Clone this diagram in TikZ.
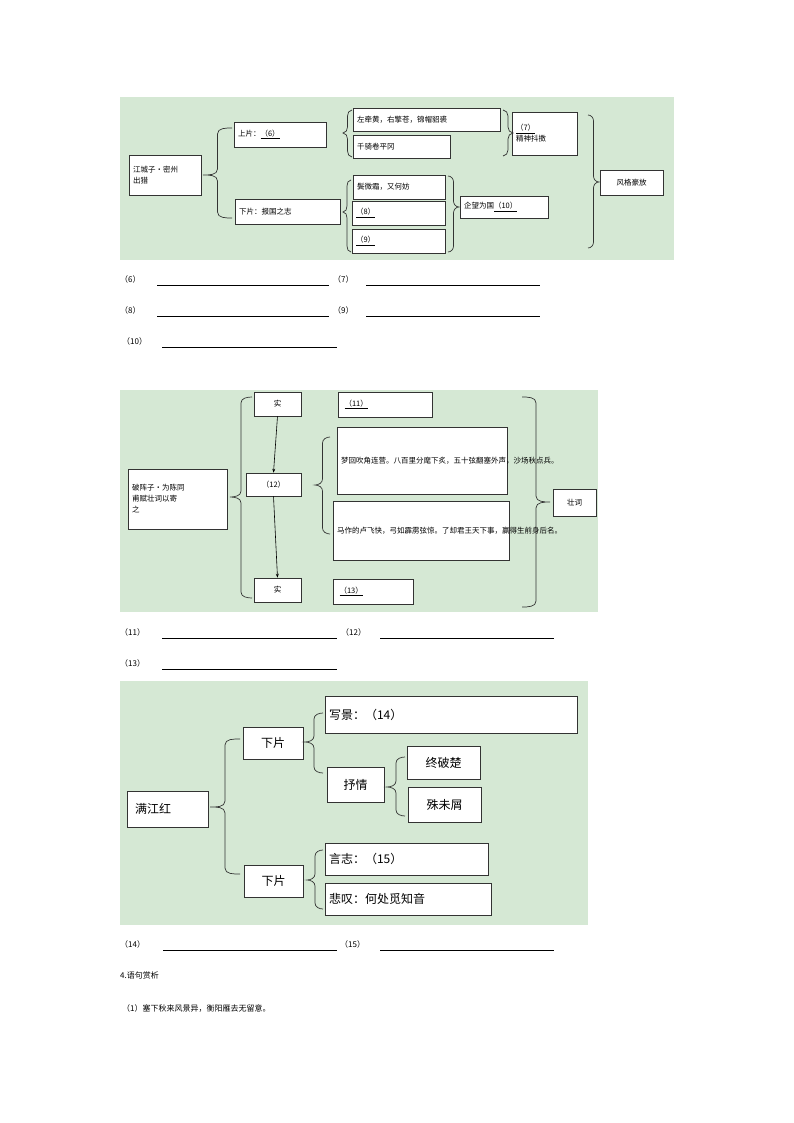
\documentclass[tikz,border=0pt]{standalone}
\usepackage{fontspec}
\setmainfont{Noto Sans CJK SC}
\usetikzlibrary{arrows.meta}
\definecolor{pg}{RGB}{213,232,212}
\newcommand\bx[7][center]{%
  \pgfmathsetmacro\bw{#5-#3}\pgfmathsetmacro\bh{#6-#4}\pgfmathsetmacro\tw{#5-#3-8}%
  \node[box,minimum width=\bw pt,minimum height=\bh pt,text width=\tw pt,align=#1] (#2) at ({(#3+#5)/2},{(#4+#6)/2}) {#7};}
% left brace: tipx, x of ends, top, mid, bottom
\newcommand\LB[5]{\pgfmathsetmacro\m{(#1+#2)/2}\pgfmathsetmacro\r{min(6,(#4-#3)/3)}%
  \draw[brc] (#2,#3) to[out=180,in=90] (\m,#3+\r) -- (\m,#4-\r) to[out=-90,in=0] (#1,#4)
   to[out=0,in=90] (\m,#4+\r) -- (\m,#5-\r) to[out=-90,in=180] (#2,#5);}
\newcommand\RB[5]{\pgfmathsetmacro\m{(#1+#2)/2}\pgfmathsetmacro\r{min(6,(#4-#3)/3)}%
  \draw[brc] (#2,#3) to[out=0,in=90] (\m,#3+\r) -- (\m,#4-\r) to[out=-90,in=180] (#1,#4)
   to[out=180,in=90] (\m,#4+\r) -- (\m,#5-\r) to[out=-90,in=0] (#2,#5);}
\begin{document}
\begin{tikzpicture}[x=1pt,y=-1pt,
  box/.style={draw=black!80,fill=white,line width=0.6pt,inner xsep=4pt,inner ysep=1pt,font=\fontsize{7.5}{11}\selectfont},
  brc/.style={line width=0.7pt,black!80},
  ans/.style={anchor=west,font=\fontsize{8}{10}\selectfont,inner sep=0pt},
  ln/.style={line width=0.6pt}]
\useasboundingbox (0,0) rectangle (794,1123);
% ===== panel 1
\fill[pg] (120,97) rectangle (674,260);
\bx[left]{a0}{129}{155}{201}{195}{江城子·密州\\出猎}
\bx[left]{a1}{234}{122}{326}{147}{上片：\underline{（6）}}
\bx[left]{a2}{235}{199}{340}{224}{下片：报国之志}
\bx[left]{a3}{353}{108}{500}{131}{左牵黄，右擎苍，锦帽貂裘}
\bx[left]{a4}{353}{135}{450}{158}{千骑卷平冈}
\bx[left]{a5}{512}{112}{577}{155}{\underline{（7）}\\精神抖擞}
\bx[left]{a6}{353}{175}{445}{199}{鬓微霜，又何妨}
\bx[left]{a7}{352}{201}{445}{225}{\underline{（8）}}
\bx[left]{a8}{352}{229}{445}{253}{\underline{（9）}}
\bx[left]{a9}{460}{196}{548}{218}{企望为国\underline{（10）}}
\bx{a10}{600}{170}{663}{195}{风格豪放}
\LB{203}{232}{128}{175}{218}
\LB{343}{352}{110}{133}{157}
\RB{513}{503}{110}{133}{156}
\LB{343}{351}{180}{212}{252}
\RB{459}{448}{176}{207}{252}
\RB{599}{588}{115}{182}{248}
% answers 1
\node[ans] (q6) at (120,279) {（6）}; \draw[ln] (157,285) -- (329,285);
\node[ans] (q7) at (333,279) {（7）}; \draw[ln] (366,285) -- (540,285);
\node[ans] (q8) at (120,310) {（8）}; \draw[ln] (157,316) -- (329,316);
\node[ans] (q9) at (333,310) {（9）}; \draw[ln] (366,316) -- (540,316);
\node[ans] (q10) at (122,341) {（10）}; \draw[ln] (162,347) -- (337,347);
% ===== panel 2
\fill[pg] (120,390) rectangle (598,612);
\bx[left]{b0}{128}{469}{227}{529}{破阵子·为陈同\\甫赋壮词以寄\\之}
\bx{b1}{254}{392}{301}{416}{实}
\bx[left]{b2}{338}{392}{432}{417}{\ \underline{（11）}}
\bx{b3}{246}{473}{301}{496}{（12）}
\bx{b4}{254}{578}{301}{602}{实}
\bx[left]{b5}{333}{579}{413}{604}{\ \underline{（13）}}
\bx[left]{b6}{337}{427}{507}{494}{梦回吹角连营。八百里分麾下炙，五十弦翻塞外声，沙场秋点兵。}
\bx[left]{b7}{333}{501}{509}{560}{马作的卢飞快，弓如霹雳弦惊。了却君王天下事，赢得生前身后名。}
\bx{b8}{553}{489}{596}{516}{壮词}
\draw[line width=0.6pt,-{Stealth[length=4pt,width=3pt]}] (b1.south) -- (b3.north);
\draw[line width=0.6pt,-{Stealth[length=4pt,width=3pt]}] (b3.south) -- (b4.north);
\LB{230}{252}{397}{497}{598}
\LB{315}{330}{437}{485}{534}
\RB{550}{522}{397}{502}{607}
\node[ans] (q11) at (120,632) {（11）}; \draw[ln] (162,638) -- (337,638);
\node[ans] (q12) at (341,632) {（12）}; \draw[ln] (380,638) -- (554,638);
\node[ans] (q13) at (120,663) {（13）}; \draw[ln] (162,669) -- (337,669);
% ===== panel 3
\fill[pg] (120,681) rectangle (588,925);
\begin{scope}[box/.append style={font=\fontsize{12}{14}\selectfont}]
\bx[left]{c0}{127}{791}{208}{827}{\ 满江红}
\bx{c1}{243}{727}{303}{759}{下片}
\bx{c2}{244}{865}{303}{897}{下片}
\bx[left]{c3}{325}{696}{577}{733}{写景：（14）}
\bx{c4}{327}{767}{384}{802}{抒情}
\bx{c5}{407}{746}{480}{779}{终破楚}
\bx{c6}{408}{787}{481}{822}{殊未屑}
\bx[left]{c7}{325}{843}{488}{875}{言志：（15）}
\bx[left]{c8}{325}{883}{491}{915}{悲叹：何处觅知音}
\end{scope}
\LB{210}{240}{739}{807}{874}
\LB{305}{323}{713}{742}{773}
\LB{387}{405}{757}{787}{816}
\LB{307}{323}{850}{880}{909}
\node[ans] (q14) at (120,944) {（14）}; \draw[ln] (163,950) -- (337,950);
\node[ans] (q15) at (340,944) {（15）}; \draw[ln] (380,950) -- (554,950);
\node[ans] (h4) at (120,975) {4.语句赏析};
\node[ans] (s1) at (122,1008) {（1）塞下秋来风景异，衡阳雁去无留意。};
\end{tikzpicture}
\end{document}
